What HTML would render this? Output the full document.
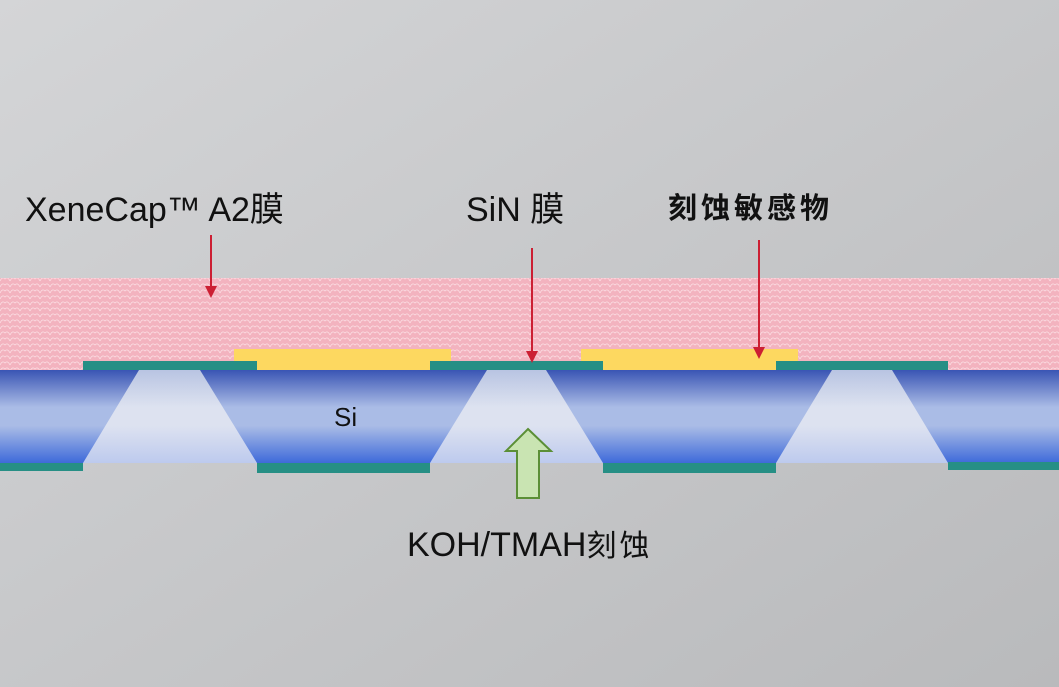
<!DOCTYPE html>
<html><head><meta charset="utf-8"><style>
html,body{margin:0;padding:0;width:1059px;height:687px;overflow:hidden}
svg{display:block}
text{font-family:"Liberation Sans","Noto Sans CJK SC",sans-serif;fill:#111}
</style></head><body>
<svg width="1059" height="687" viewBox="0 0 1059 687" xmlns="http://www.w3.org/2000/svg">
<defs>
<linearGradient id="bg" x1="0" y1="0" x2="1" y2="1">
<stop offset="0" stop-color="#d4d5d7"/><stop offset="1" stop-color="#b9babc"/>
</linearGradient>
<linearGradient id="si" x1="0" y1="0" x2="0" y2="1">
<stop offset="0" stop-color="#3a55b4"/><stop offset="0.4" stop-color="#aabce6"/><stop offset="0.6" stop-color="#aabce6"/><stop offset="1" stop-color="#3e6ada"/>
</linearGradient>
<linearGradient id="tr" x1="0" y1="0" x2="0" y2="1">
<stop offset="0" stop-color="#b8c4e2"/><stop offset="0.4" stop-color="#dde2f0"/><stop offset="0.6" stop-color="#dde2f0"/><stop offset="1" stop-color="#bdcaee"/>
</linearGradient>
<pattern id="pk" width="10" height="6" patternUnits="userSpaceOnUse">
<rect width="10" height="6" fill="#f3b3bf"/>
<path d="M0 5 Q2.5 0 5 3 Q7.5 0 10 5" fill="none" stroke="#fbdfe4" stroke-width="0.8"/>
</pattern>
</defs>
<rect width="1059" height="687" fill="url(#bg)"/>
<rect x="0" y="278" width="1059" height="92" fill="url(#pk)"/>
<rect x="234" y="349" width="217" height="21" fill="#fdd860"/>
<rect x="581" y="349" width="217" height="21" fill="#fdd860"/>
<rect x="0" y="370" width="1059" height="93" fill="url(#si)"/>
<polygon points="139,370 200,370 257,463 83,463" fill="url(#tr)"/>
<polygon points="487,370 546,370 603,463 430,463" fill="url(#tr)"/>
<polygon points="832,370 892,370 948,463 776,463" fill="url(#tr)"/>
<g fill="#268f85">
<rect x="83" y="361" width="174" height="9"/>
<rect x="430" y="361" width="173" height="9"/>
<rect x="776" y="361" width="172" height="9"/>
<rect x="0" y="463" width="83" height="8"/>
<rect x="257" y="463" width="173" height="10"/>
<rect x="603" y="463" width="173" height="10"/>
<rect x="948" y="462" width="111" height="8"/>
</g>
<g stroke="#cc1f33" stroke-width="2" fill="#cc1f33">
<line x1="211" y1="235" x2="211" y2="290"/>
<polygon points="205,286 217,286 211,298" stroke="none"/>
<line x1="532" y1="248" x2="532" y2="354"/>
<polygon points="526,351 538,351 532,363" stroke="none"/>
<line x1="759" y1="240" x2="759" y2="350"/>
<polygon points="753,347 765,347 759,359" stroke="none"/>
</g>
<polygon points="528,429 551,451 539,451 539,498 517,498 517,451 506,451" fill="#c9e4b2" stroke="#5b8f36" stroke-width="2"/>
<text x="25" y="221" font-size="34">XeneCap™ A2膜</text>
<text x="466" y="221" font-size="34">SiN 膜</text>
<text x="668" y="218" font-size="29" letter-spacing="4" font-weight="bold">刻蚀敏感物</text>
<text x="334" y="426" font-size="26">Si</text>
<text x="407" y="556" font-size="34">KOH/TMAH<tspan font-size="30" letter-spacing="3">刻蚀</tspan></text>
</svg>
</body></html>
